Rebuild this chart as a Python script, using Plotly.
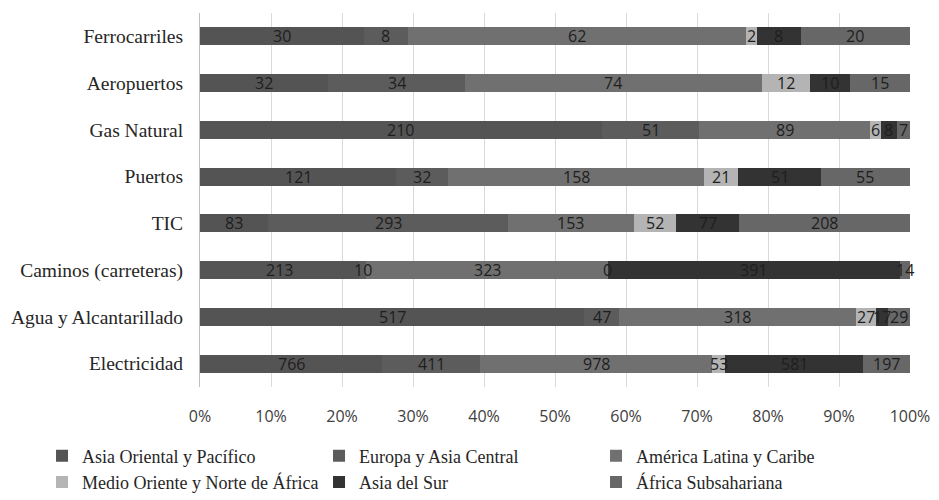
import plotly.graph_objects as go

# Sectors (top to bottom) and regional investment counts
sectors = ["Ferrocarriles", "Aeropuertos", "Gas Natural", "Puertos", "TIC",
           "Caminos (carreteras)", "Agua y Alcantarillado", "Electricidad"]

regions = ["Asia Oriental y Pacífico", "Europa y Asia Central", "América Latina y Caribe",
           "Medio Oriente y Norte de África", "Asia del Sur", "África Subsahariana"]

asia_oriental = [30, 32, 210, 121, 83, 213, 517, 766]
europa_asia_central = [8, 34, 51, 32, 293, 10, 47, 411]
america_latina = [62, 74, 89, 158, 153, 323, 318, 978]
medio_oriente = [2, 12, 6, 21, 52, 0, 27, 53]
asia_sur = [8, 10, 8, 51, 77, 391, 17, 581]
africa_subsahariana = [20, 15, 7, 55, 208, 14, 29, 197]

series = [asia_oriental, europa_asia_central, america_latina,
          medio_oriente, asia_sur, africa_subsahariana]
colors = ["#545454", "#5c5c5c", "#707070", "#b4b4b4", "#333333", "#676767"]

tick_vals = [0, 10, 20, 30, 40, 50, 60, 70, 80, 90, 100]
tick_text = [f"{v}%" for v in tick_vals]

NUM_FONT = "Open Sans, Liberation Sans, sans-serif"
SERIF = "Liberation Serif, Times New Roman, serif"

fig = go.Figure()
for name, vals, col in zip(regions, series, colors):
    fig.add_trace(go.Bar(
        y=sectors, x=vals, name=name, orientation="h",
        marker=dict(color=col, line=dict(width=0)),
    ))

# value labels centred in each segment of the 100% stacked bars
annotations = []
totals = [sum(s[i] for s in series) for i in range(len(sectors))]
for i, sec in enumerate(sectors):
    cum = 0.0
    for vals in series:
        share = vals[i] / totals[i] * 100
        annotations.append(dict(
            x=cum + share / 2, y=sec, xref="x", yref="y", text=str(vals[i]),
            showarrow=False, xanchor="center", yanchor="middle",
            font=dict(family=NUM_FONT, size=16, color="#1e1e1e"),
        ))
        cum += share

fig.update_layout(
    barmode="stack", barnorm="percent", bargap=0.61,
    width=939, height=500,
    margin=dict(l=200, r=29, t=13, b=113, autoexpand=False),
    paper_bgcolor="white", plot_bgcolor="white",
    annotations=annotations,
    showlegend=True,
    legend=dict(
        orientation="h", x=-0.2225, y=-0.135, xanchor="left", yanchor="top",
        entrywidth=232, entrywidthmode="pixels", itemwidth=30, tracegroupgap=0,
        font=dict(family=SERIF, size=18, color="#262626"),
        traceorder="normal",
    ),
)
fig.update_xaxes(
    range=[0, 100], tickvals=tick_vals, ticktext=tick_text,
    showgrid=True, gridcolor="#d9d9d9", gridwidth=1, zeroline=False,
    ticks="", showline=False, ticklabelstandoff=18,
    tickfont=dict(family=NUM_FONT, size=16, color="#404040"),
)
fig.update_yaxes(
    categoryorder="array", categoryarray=sectors, autorange="reversed",
    showgrid=False, zeroline=False, showline=True, linecolor="#bfbfbf", linewidth=1,
    ticks="", ticklabelstandoff=12,
    tickfont=dict(family=SERIF, size=19.5, color="#262626"),
)

fig.write_html("out.html")
